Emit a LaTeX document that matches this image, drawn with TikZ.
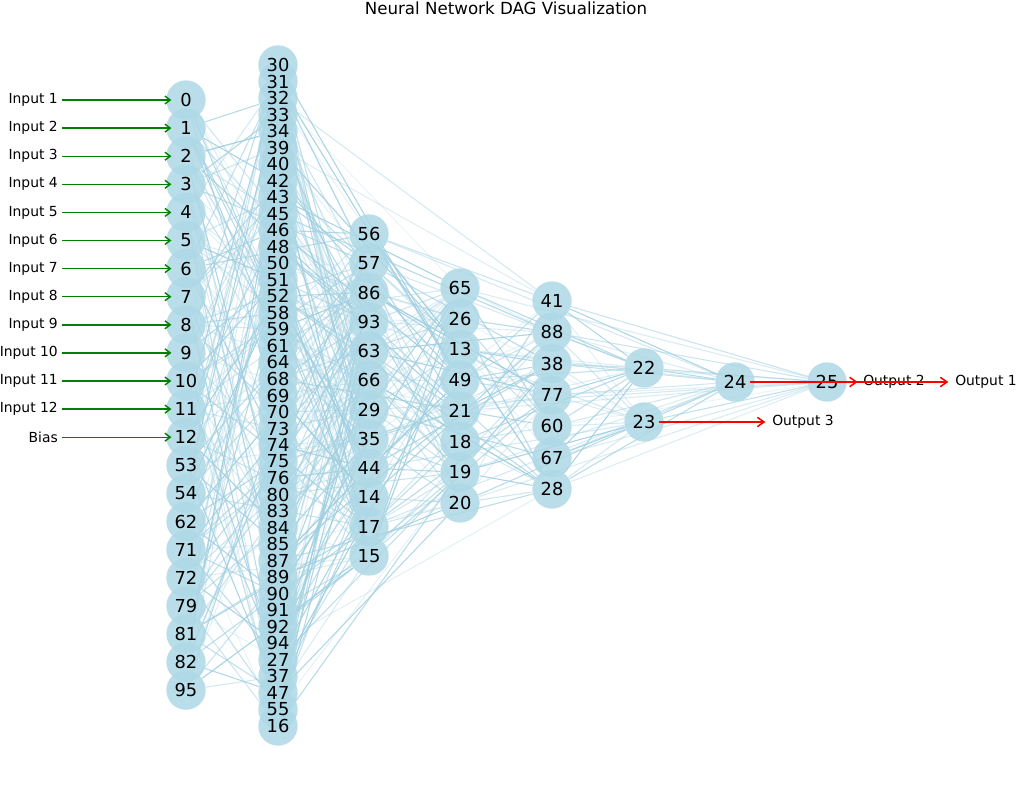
\documentclass[tikz,border=0pt]{standalone}
\usepackage{fontspec}
\setmainfont{DejaVu Sans}
\usetikzlibrary{arrows.meta,backgrounds}
\definecolor{nodeblue}{RGB}{173,216,230}
\definecolor{edgeblue}{RGB}{160,207,224}
\definecolor{ingreen}{RGB}{0,128,0}
\definecolor{outred}{RGB}{255,0,0}
\begin{document}
\begin{tikzpicture}[x=0.75pt,y=-0.75pt,
  neuron/.style={circle, fill=nodeblue, fill opacity=0.85, draw=none, inner sep=0pt, minimum size=29.5pt},
  numtext/.style={inner sep=0pt, font=\fontsize{13.4}{13.4}\selectfont},
  link/.style={draw=edgeblue, line width=0.8pt},
  inlabel/.style={anchor=east, inner sep=0pt, font=\fontsize{10.4}{10.4}\selectfont},
  outlabel/.style={anchor=west, inner sep=0pt, font=\fontsize{10.4}{10.4}\selectfont},
  inarrow/.style={draw=ingreen, line width=1.05pt, -{Straight Barb[length=4pt,width=6pt]}},
  outarrow/.style={draw=outred, line width=1.15pt, -{Straight Barb[length=5pt,width=7pt]}},
]
\useasboundingbox (0,0) rectangle (1016,792);

\node[font=\fontsize{12.5}{12.5}\selectfont] (title) at (506,8) {Neural Network DAG Visualization};

% circles of every layer
\foreach \i in {0,...,21} \node[neuron] (a\i) at (186,{100+28.1*\i}) {};
\foreach \i in {0,...,40} \node[neuron] (b\i) at (278,{65+16.525*\i}) {};
\foreach \i in {0,...,11} \node[neuron] (c\i) at (369,{234+29.27*\i}) {};
\foreach \i in {0,...,7}  \node[neuron] (d\i) at (460,{288+30.71*\i}) {};
\foreach \i in {0,...,6}  \node[neuron] (e\i) at (552,{301+31.33*\i}) {};
\node[neuron] (f0) at (644,368) {};
\node[neuron] (f1) at (644,422) {};
\node[neuron] (g0) at (735,382) {};
\node[neuron] (h0) at (827,382) {};

% labels of the neurons, set above all circles
\foreach \lab [count=\i from 0] in {0,1,2,3,4,5,6,7,8,9,10,11,12,53,54,62,71,72,79,81,82,95}
  \node[numtext] (ta\i) at (a\i) {\lab};
\foreach \lab [count=\i from 0] in {30,31,32,33,34,39,40,42,43,45,46,48,50,51,52,58,59,61,64,68,69,70,73,74,75,76,80,83,84,85,87,89,90,91,92,94,27,37,47,55,16}
  \node[numtext] (tb\i) at (b\i) {\lab};
\foreach \lab [count=\i from 0] in {56,57,86,93,63,66,29,35,44,14,17,15}
  \node[numtext] (tc\i) at (c\i) {\lab};
\foreach \lab [count=\i from 0] in {65,26,13,49,21,18,19,20}
  \node[numtext] (td\i) at (d\i) {\lab};
\foreach \lab [count=\i from 0] in {41,88,38,77,60,67,28}
  \node[numtext] (te\i) at (e\i) {\lab};
\node[numtext] (tf0) at (f0) {22};
\node[numtext] (tf1) at (f1) {23};
\node[numtext] (tg0) at (g0) {24};
\node[numtext] (th0) at (h0) {25};

% weighted connections, behind the neurons
\pgfmathsetseed{31}
\begin{pgfonlayer}{background}
\foreach \s in {0,...,21}{
  \foreach \k in {1,...,5}{
    \pgfmathtruncatemacro{\t}{random(0,40)}
    \pgfmathsetmacro{\op}{0.2+0.75*rnd}
    \draw[link, draw opacity=\op] (a\s) -- (b\t);
  }
  \foreach \k in {1,2}{
    \pgfmathtruncatemacro{\t}{random(0,11)}
    \pgfmathsetmacro{\op}{0.2+0.75*rnd}
    \draw[link, draw opacity=\op] (a\s) -- (c\t);
  }
}
\foreach \s in {0,...,40}{
  \foreach \k in {1,...,3}{
    \pgfmathtruncatemacro{\t}{random(0,11)}
    \pgfmathsetmacro{\op}{0.2+0.75*rnd}
    \draw[link, draw opacity=\op] (b\s) -- (c\t);
  }
  \pgfmathtruncatemacro{\t}{random(0,7)}
  \pgfmathsetmacro{\op}{0.2+0.75*rnd}
  \draw[link, draw opacity=\op] (b\s) -- (d\t);
}
\foreach \s in {2,5,9,14,19,24,30,35}{
  \pgfmathtruncatemacro{\t}{random(0,6)}
  \pgfmathsetmacro{\op}{0.2+0.6*rnd}
  \draw[link, draw opacity=\op] (b\s) -- (e\t);
}
\foreach \s in {0,...,11}{
  \foreach \k in {1,...,3}{
    \pgfmathtruncatemacro{\t}{random(0,7)}
    \pgfmathsetmacro{\op}{0.2+0.75*rnd}
    \draw[link, draw opacity=\op] (c\s) -- (d\t);
  }
  \foreach \k in {1,2}{
    \pgfmathtruncatemacro{\t}{random(0,6)}
    \pgfmathsetmacro{\op}{0.2+0.75*rnd}
    \draw[link, draw opacity=\op] (c\s) -- (e\t);
  }
}
\foreach \s/\t in {c0/g0,c1/f0,c3/f1,c6/h0,c8/f1,c10/g0}
  \draw[link, draw opacity=0.45] (\s) -- (\t);
\foreach \s in {0,...,7}{
  \foreach \k in {1,...,3}{
    \pgfmathtruncatemacro{\t}{random(0,6)}
    \pgfmathsetmacro{\op}{0.2+0.75*rnd}
    \draw[link, draw opacity=\op] (d\s) -- (e\t);
  }
  \pgfmathtruncatemacro{\t}{random(0,1)}
  \pgfmathsetmacro{\op}{0.2+0.75*rnd}
  \draw[link, draw opacity=\op] (d\s) -- (f\t);
}
\foreach \s/\t in {d0/h0,d2/g0,d4/h0,d6/g0,d7/h0}
  \draw[link, draw opacity=0.4] (\s) -- (\t);
\foreach \s in {0,...,6}{
  \pgfmathsetmacro{\op}{0.3+0.6*rnd}
  \draw[link, draw opacity=\op] (e\s) -- (f0);
  \pgfmathsetmacro{\op}{0.3+0.6*rnd}
  \draw[link, draw opacity=\op] (e\s) -- (f1);
  \pgfmathsetmacro{\op}{0.25+0.6*rnd}
  \draw[link, draw opacity=\op] (e\s) -- (g0);
  \pgfmathsetmacro{\op}{0.2+0.5*rnd}
  \draw[link, draw opacity=\op] (e\s) -- (h0);
}
\draw[link, draw opacity=0.75] (f0) -- (g0);
\draw[link, draw opacity=0.65] (f0) -- (h0);
\draw[link, draw opacity=0.75] (f1) -- (g0);
\draw[link, draw opacity=0.65] (f1) -- (h0);
\draw[link, draw opacity=0.85] (g0) -- (h0);
\end{pgfonlayer}

% inputs
\foreach \lab [count=\i from 0] in {Input 1,Input 2,Input 3,Input 4,Input 5,Input 6,Input 7,Input 8,Input 9,Input 10,Input 11,Input 12,Bias}{
  \node[inlabel] (in\i) at (58,{100+28.1*\i}) {\lab};
  \draw[inarrow, shorten <=3pt, shorten >=-4pt] (in\i.east) -- (a\i.west);
}

% outputs
\node[outlabel] (out1) at (955,382) {Output 1};
\node[outlabel] (out2) at (863,382) {Output 2};
\node[outlabel] (out3) at (772,422) {Output 3};
\draw[outarrow, shorten <=11pt, shorten >=5pt] (f1.center) -- (out3.west);
\draw[outarrow, shorten <=11pt, shorten >=5pt] (g0.center) -- (out1.west);
\draw[outarrow, shorten <=11pt, shorten >=4pt] (h0.center) -- (out2.west);
\end{tikzpicture}
\end{document}
